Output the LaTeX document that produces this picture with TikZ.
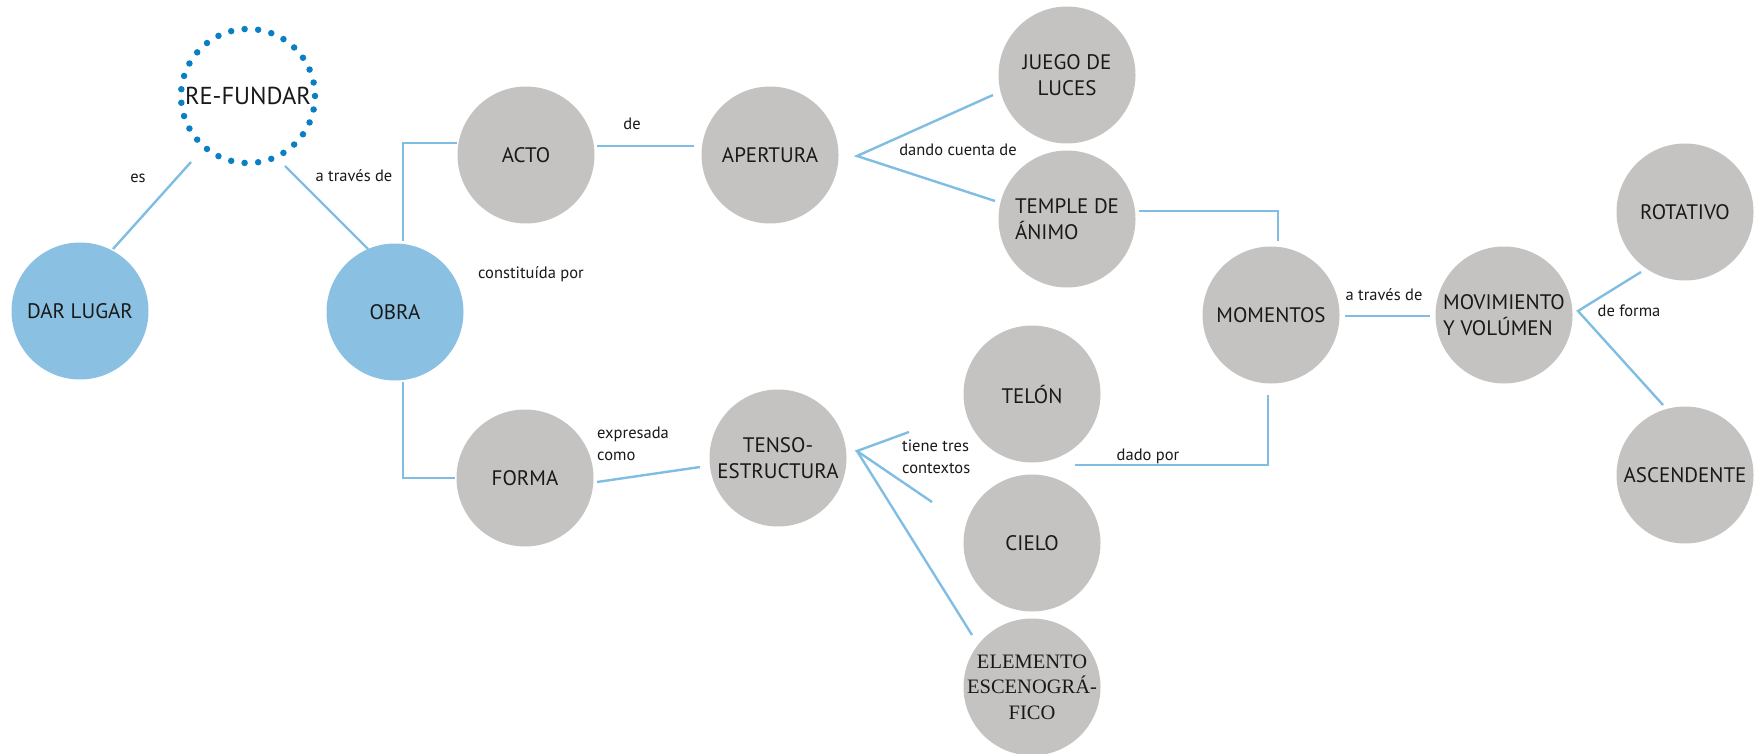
\documentclass[tikz,border=0pt]{standalone}
\usepackage{fontspec}
\setmainfont{PT Sans}
\newfontfamily\serifel{Liberation Serif}
\usetikzlibrary{backgrounds}
\definecolor{grisconcepto}{HTML}{C4C3C1}
\definecolor{azulconcepto}{HTML}{8AC1E2}
\definecolor{azulenlace}{HTML}{80BDE3}
\definecolor{azulpunto}{HTML}{0A7FC4}
\tikzstyle{mapa}=[x=1pt, y=-1pt, font=\fontsize{21}{25.5}\selectfont, text=black!90]
\tikzstyle{c}=[circle, fill=grisconcepto, minimum size=137pt, inner sep=1pt, align=center]
\tikzstyle{cb}=[c, fill=azulconcepto]
\tikzstyle{cd}=[circle, draw=azulpunto, line width=6.5pt, line cap=round, dash pattern=on 0pt off 13.58pt, minimum size=134pt, inner sep=0pt, font=\fontsize{24.5}{28}\selectfont]
\tikzstyle{lbl}=[inner sep=0pt, align=left, font=\fontsize{16.5}{21.5}\selectfont]
\tikzstyle{link}=[-, draw=azulenlace, line width=2.4pt]
\newcommand{\elfont}{\serifel\fontsize{20.5}{25.5}\selectfont}
\newcommand{\zl}[1]{\makebox[0pt]{#1}}

\begin{document}
\begin{tikzpicture}[mapa]
	\useasboundingbox (0,0) rectangle (1760,754);
	%% conceptos
	\draw (248,96) node[cd] (refundar) {RE-FUNDAR};
	\draw (80,311) node[cb] (darlugar) {DAR LUGAR};
	\draw (395,312) node[cb] (obra) {OBRA};
	%%
	\draw (526,155) node[c] (acto) {ACTO};
	\draw (770,155) node[c] (apertura) {APERTURA};
	\draw (1067,75) node[c] (juego) {JUEGO DE\\LUCES};
	\draw (1067,219) node[c, align=left] (temple) {TEMPLE DE\\ÁNIMO};
	%%
	\draw (1271,315) node[c] (momentos) {MOMENTOS};
	\draw (1504,315) node[c, align=left] (movimiento) {MOVIMIENTO\\Y VOLÚMEN};
	\draw (1685,212) node[c] (rotativo) {ROTATIVO};
	\draw (1685,475) node[c] (ascendente) {ASCENDENTE};
	%%
	\draw (525,478) node[c] (forma) {FORMA};
	\draw (778,458) node[c] (tenso) {TENSO-\\ESTRUCTURA};
	\draw (1032,394) node[c] (telon) {TELÓN};
	\draw (1032,543) node[c] (cielo) {CIELO};
	\draw (1032,687) node[c, font=\elfont] (elemento) {\zl{ELEMENTO}\\\zl{ESCENOGRÁ-}\\\zl{FICO}};
	%%%%%%
	%% extremos de enlaces
	\coordinate (es1) at (191,162);
	\coordinate (es2) at (113,249);
	\coordinate (at1) at (285,166);
	\coordinate (at2) at (368,249);
	\coordinate (ob1) at (403,241);
	\coordinate (ob2) at (457,143);
	\coordinate (ob3) at (403,382);
	\coordinate (ob4) at (455,478);
	\coordinate (de1) at (597,146);
	\coordinate (de2) at (694,146);
	\coordinate (ap0) at (857,156);
	\coordinate (ap1) at (993,95);
	\coordinate (ap2) at (995,201);
	\coordinate (te1) at (1139,211);
	\coordinate (te2) at (1278,241);
	\coordinate (mo1) at (1345,316);
	\coordinate (mo2) at (1430,316);
	\coordinate (mv0) at (1578,311);
	\coordinate (mv1) at (1641,272);
	\coordinate (mv2) at (1663,405);
	\coordinate (fo1) at (597,482);
	\coordinate (fo2) at (700,467);
	\coordinate (tn0) at (857,451);
	\coordinate (tn1) at (909,432);
	\coordinate (tn2) at (932,502);
	\coordinate (tn3) at (972,635);
	\coordinate (dp1) at (1075,465);
	\coordinate (dp2) at (1268,395);
	%%
	\draw[link] (es1) -- (es2);
	\draw[link] (at1) -- (at2);
	\draw[link] (ob1) |- (ob2);
	\draw[link] (ob3) |- (ob4);
	\draw[link] (de1) -- (de2);
	\draw[link] (ap1) -- (ap0) -- (ap2);
	\draw[link] (te1) -| (te2);
	\draw[link] (mo1) -- (mo2);
	\draw[link] (mv1) -- (mv0) -- (mv2);
	\draw[link] (fo1) -- (fo2);
	\draw[link] (tn1) -- (tn0) -- (tn2);
	\draw[link] (tn0) -- (tn3);
	\draw[link] (dp1) -| (dp2);
	%%%%%%
	%% etiquetas
	\draw (138,178) node[lbl] (les) {es};
	\draw (354,176) node[lbl] (latraves) {a través de};
	\draw (531,274) node[lbl] (lconst) {constituída por};
	\draw (632,124) node[lbl] (lde) {de};
	\draw (958,150) node[lbl] (ldando) {dando cuenta de};
	\draw (1384,295) node[lbl] (latraves2) {a través de};
	\draw (1629,311) node[lbl] (ldeforma) {de forma};
	\draw (597,444) node[lbl, anchor=west] (lexpresada) {expresada\\como};
	\draw (902,457) node[lbl, anchor=west] (ltiene) {tiene tres\\contextos};
	\draw (1148,456) node[lbl] (ldado) {dado por};
\end{tikzpicture}
\end{document}
